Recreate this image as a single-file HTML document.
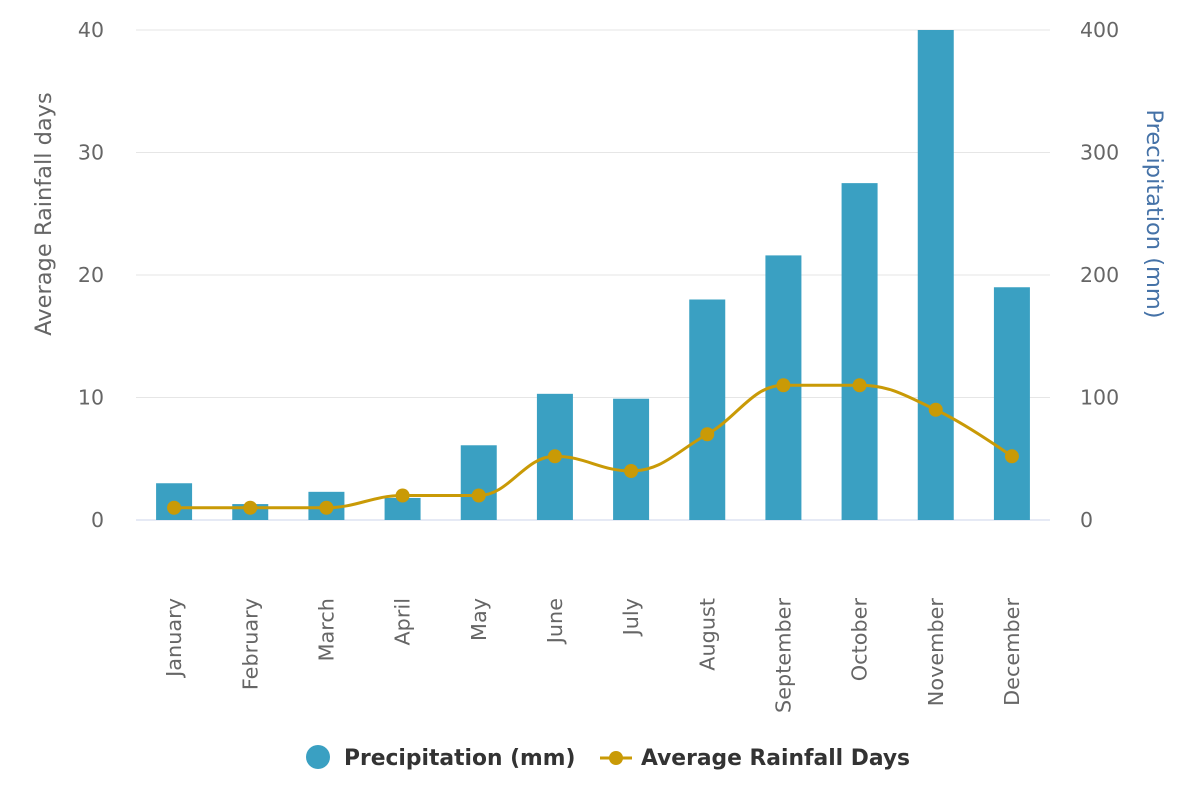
<!DOCTYPE html>
<html><head><meta charset="utf-8"><style>
html,body{margin:0;padding:0;background:#fff;}
svg text{font-family:"DejaVu Sans","Liberation Sans",sans-serif;}
</style></head><body>
<svg id="chart" width="1200" height="791" xmlns="http://www.w3.org/2000/svg">
<g id="grid"></g>
<g id="bars"></g>
<g id="line"></g>
<g id="axes"></g>
<text transform="translate(51,214) rotate(-90)" text-anchor="middle" font-size="22.5" fill="#666">Average Rainfall days</text>
<text transform="translate(1147,214) rotate(90)" text-anchor="middle" font-size="22.5" fill="#4572a7">Precipitation (mm)</text>
<g>
<g>
<circle cx="318" cy="757" r="12" fill="#3aa0c2"/>
<text x="344" y="765" font-size="21.8" font-weight="bold" fill="#333">Precipitation (mm)</text></g>
<g>
<line x1="600" y1="758" x2="632" y2="758" stroke="#c99a06" stroke-width="3"/>
<circle cx="616" cy="758" r="7" fill="#c99a06"/>
<text x="641" y="765" font-size="21.8" font-weight="bold" fill="#333">Average Rainfall Days</text></g>
</g>
</svg>
<script>
const categories=["January","February","March","April","May","June","July","August","September","October","November","December"];
const precipitation=[30,13,23,18,61,103,99,180,216,275,400,190];
const rainDays=[1,1,1,2,2,5.2,4,7,11,11,9,5.2];
const leftTicks=[0,10,20,30,40];
const rightTicks=[0,100,200,300,400];
const NS="http://www.w3.org/2000/svg";
const X0=136,X1=1050,Y0=520,Y1=30;
const cw=(X1-X0)/categories.length;
const xC=i=>X0+cw*(i+0.5);
const yL=v=>Y0-(v/40)*(Y0-Y1);
const yR=v=>Y0-(v/400)*(Y0-Y1);
function mk(tag,attrs,parent){const e=document.createElementNS(NS,tag);for(const k in attrs)e.setAttribute(k,attrs[k]);parent.appendChild(e);return e;}
const grid=document.getElementById('grid'),axes=document.getElementById('axes');
leftTicks.forEach((t,i)=>{
 const y=yL(t);
 const l=mk('line',{x1:X0,x2:X1,y1:y,y2:y,stroke:i==0?'#ccd6eb':'#e6e6e6','stroke-width':1},grid);
 
 
 const tx=mk('text',{x:104,y:y+7,'text-anchor':'end','font-size':20.5,fill:'#666'},axes);
 tx.textContent=t;
 
 
});
rightTicks.forEach(t=>{
 const tx=mk('text',{x:1080,y:yR(t)+7,'font-size':20.5,fill:'#666'},axes);
 tx.textContent=t;
 
 
});
categories.forEach((c,i)=>{
 const x=xC(i);
 const tx=mk('text',{transform:`translate(${x+7},598) rotate(-90)`,'text-anchor':'end','font-size':20.8,fill:'#666'},axes);
 tx.textContent=c;
 
 
});
const bars=document.getElementById('bars');
precipitation.forEach((v,i)=>{
 const y=yR(v);
 const r=mk('rect',{x:xC(i)-18,y:y,width:36,height:Y0-y,fill:'#3aa0c2'},bars);
 
 
});
const line=document.getElementById('line');
const pts=rainDays.map((v,i)=>[xC(i),yL(v)]);
const sm=1.5;
let d=`M${pts[0][0]},${pts[0][1]}`;
function ctrl(i){
 const p=pts[i],prev=pts[i-1],next=pts[i+1];
 if(!prev||!next)return [p,p];
 let lx=(sm*p[0]+prev[0])/(sm+1),ly=(sm*p[1]+prev[1])/(sm+1);
 let rx=(sm*p[0]+next[0])/(sm+1),ry=(sm*p[1]+next[1])/(sm+1);
 let corr=0;
 if(rx!==lx){corr=((ry-ly)*(rx-p[0]))/(rx-lx)+p[1]-ry;}
 ly+=corr;ry+=corr;
 if(ly>Math.max(prev[1],p[1])||ly<Math.min(prev[1],p[1])){ly=Math.max(Math.min(ly,Math.max(prev[1],p[1])),Math.min(prev[1],p[1]));ry=2*p[1]-ly;}
 if(ry>Math.max(next[1],p[1])||ry<Math.min(next[1],p[1])){ry=Math.max(Math.min(ry,Math.max(next[1],p[1])),Math.min(next[1],p[1]));ly=2*p[1]-ry;}
 return [[lx,ly],[rx,ry]];
}
for(let i=1;i<pts.length;i++){
 const c1=ctrl(i-1)[1],c2=ctrl(i)[0];
 d+=` C${c1[0]},${c1[1]} ${c2[0]},${c2[1]} ${pts[i][0]},${pts[i][1]}`;
}
const path=mk('path',{d:d,fill:'none',stroke:'#c99a06','stroke-width':3},line);


pts.forEach((p,i)=>{
 const c=mk('circle',{cx:p[0],cy:p[1],r:7,fill:'#c99a06'},line);
 
 
});
</script>
</body></html>
